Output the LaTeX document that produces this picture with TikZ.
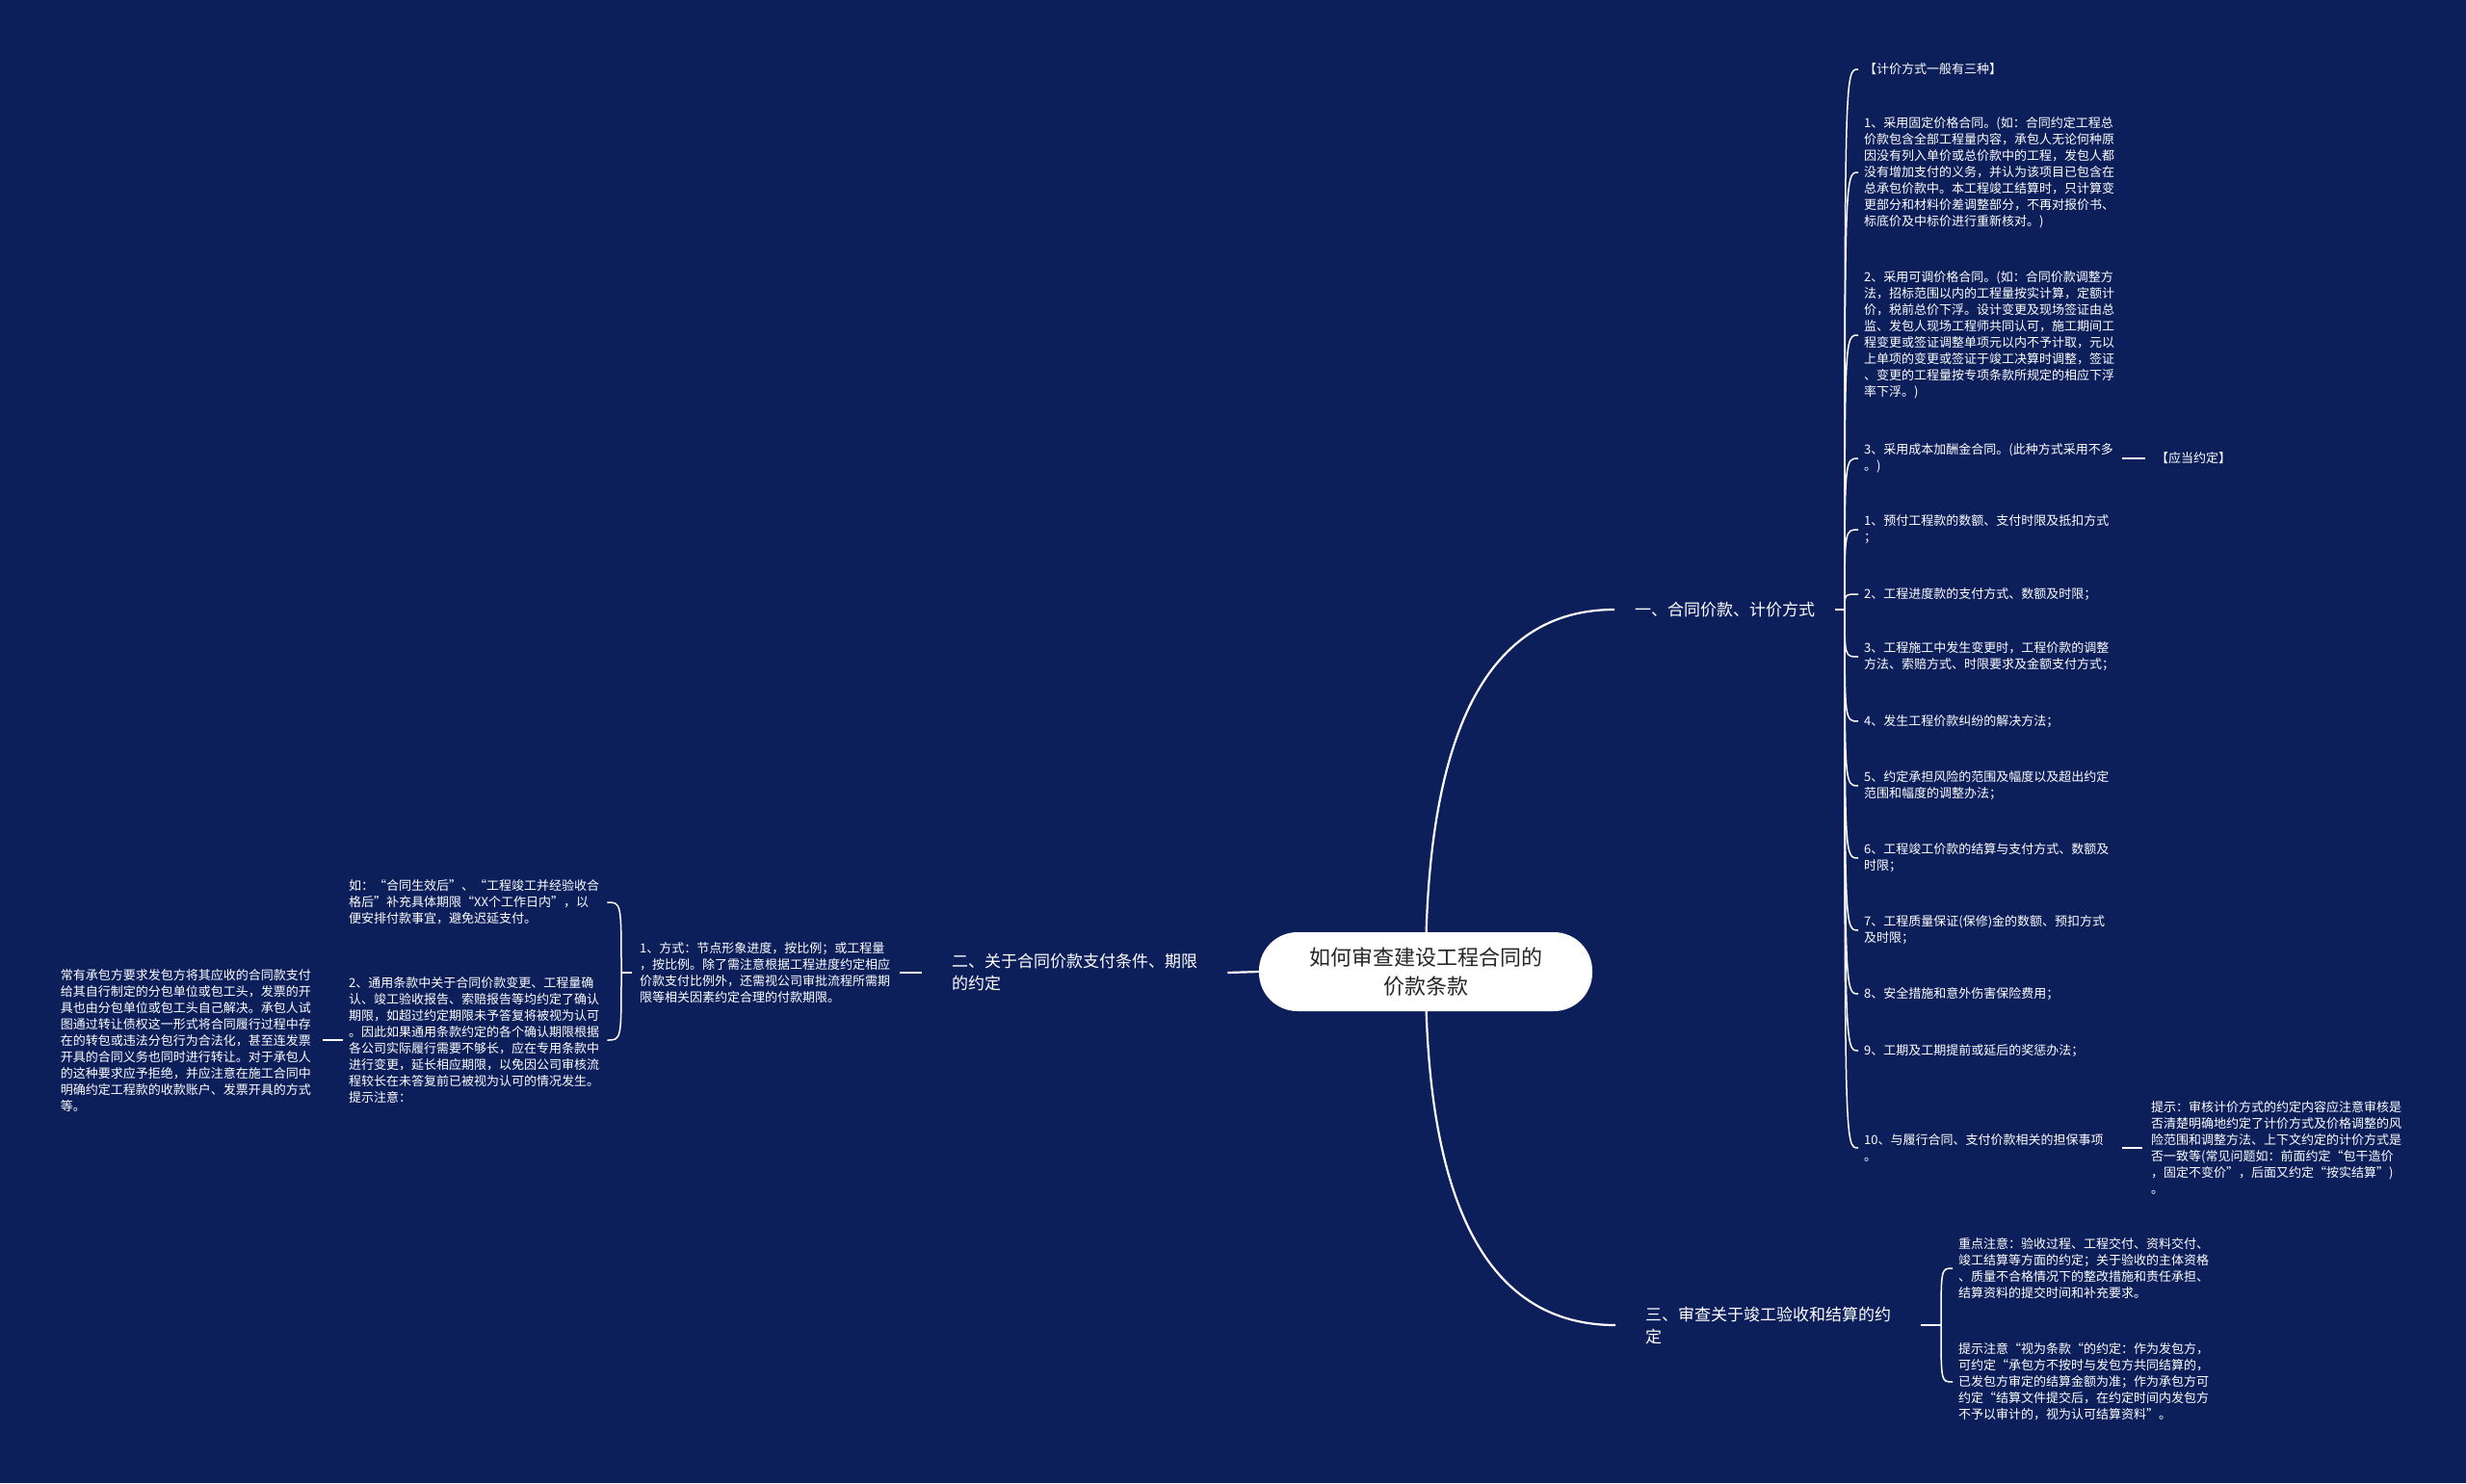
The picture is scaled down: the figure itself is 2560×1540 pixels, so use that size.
\documentclass[tikz,border=0pt]{standalone}
\usepackage{fontspec}
\setmainfont{Noto Sans CJK SC}
\usetikzlibrary{backgrounds}
\definecolor{bgnavy}{HTML}{0D1F5B}
\definecolor{inkdark}{HTML}{262626}
\begin{document}
\begin{tikzpicture}[x=1pt,y=-1pt,
  leaf/.style={text=white, font=\fontsize{13}{17}\selectfont, align=left, text width=262pt, inner xsep=6pt, inner ysep=0pt},
  branch/.style={text=white, font=\fontsize{17}{23}\selectfont, align=left, inner ysep=0pt},
  mainline/.style={draw=white, line width=2.2pt},
  subline/.style={draw=white, line width=1.5pt},
]
\useasboundingbox (0,0) rectangle (2560,1540);

% centre
\node[fill=white, rounded corners=40pt, minimum width=346pt, minimum height=82pt, align=center, text=inkdark, font=\fontsize{22}{30}\selectfont] (c) at (1480,1009) {如何审查建设工程合同的\\价款条款};

% branches
\node[branch, anchor=west, inner xsep=21pt] (b1) at (1676,633) {一、合同价款、计价方式};
\node[branch, anchor=west, inner xsep=31pt] (b2) at (957,1010) {二、关于合同价款支付条件、期限\\的约定};
\node[branch, anchor=west, inner xsep=31pt] (b3) at (1677,1376) {三、审查关于竣工验收和结算的约\\定};

\coordinate (s1) at (1915,633);
\coordinate (s2) at (645,1010);
\coordinate (s3) at (2015,1376);

% branch 1 children
\node[leaf, anchor=west] (c1) at (1929,72) {【计价方式一般有三种】};
\node[leaf, anchor=west] (c2) at (1929,179) {1、采用固定价格合同。(如：合同约定工程总\\价款包含全部工程量内容，承包人无论何种原\\因没有列入单价或总价款中的工程，发包人都\\没有增加支付的义务，并认为该项目已包含在\\总承包价款中。本工程竣工结算时，只计算变\\更部分和材料价差调整部分，不再对报价书、\\标底价及中标价进行重新核对。)};
\node[leaf, anchor=west] (c3) at (1929,348) {2、采用可调价格合同。(如：合同价款调整方\\法，招标范围以内的工程量按实计算，定额计\\价，税前总价下浮。设计变更及现场签证由总\\监、发包人现场工程师共同认可，施工期间工\\程变更或签证调整单项元以内不予计取，元以\\上单项的变更或签证于竣工决算时调整，签证\\、变更的工程量按专项条款所规定的相应下浮\\率下浮。)};
\node[leaf, anchor=west] (c4) at (1929,476) {3、采用成本加酬金合同。(此种方式采用不多\\。)};
\node[leaf, anchor=west] (c5) at (1929,550) {1、预付工程款的数额、支付时限及抵扣方式\\；};
\node[leaf, anchor=west] (c6) at (1929,617) {2、工程进度款的支付方式、数额及时限；};
\node[leaf, anchor=west] (c7) at (1929,682) {3、工程施工中发生变更时，工程价款的调整\\方法、索赔方式、时限要求及金额支付方式；};
\node[leaf, anchor=west] (c8) at (1929,749) {4、发生工程价款纠纷的解决方法；};
\node[leaf, anchor=west] (c9) at (1929,816) {5、约定承担风险的范围及幅度以及超出约定\\范围和幅度的调整办法；};
\node[leaf, anchor=west] (c10) at (1929,891) {6、工程竣工价款的结算与支付方式、数额及\\时限；};
\node[leaf, anchor=west] (c11) at (1929,966) {7、工程质量保证(保修)金的数额、预扣方式\\及时限；};
\node[leaf, anchor=west] (c12) at (1929,1032) {8、安全措施和意外伤害保险费用；};
\node[leaf, anchor=west] (c13) at (1929,1091) {9、工期及工期提前或延后的奖惩办法；};
\node[leaf, anchor=west] (c14) at (1929,1192) {10、与履行合同、支付价款相关的担保事项\\。};

\node[leaf, anchor=west, text width=80pt, inner xsep=11pt] (yd) at (2227,476) {【应当约定】};
\node[leaf, anchor=west, inner xsep=9pt] (tip) at (2224,1192) {提示：审核计价方式的约定内容应注意审核是\\否清楚明确地约定了计价方式及价格调整的风\\险范围和调整方法、上下文约定的计价方式是\\否一致等(常见问题如：前面约定“包干造价\\，固定不变价”，后面又约定“按实结算”)\\。};

% branch 2 children
\node[leaf, anchor=west, inner xsep=8pt] (k1) at (656,1010) {1、方式：节点形象进度，按比例；或工程量\\，按比例。除了需注意根据工程进度约定相应\\价款支付比例外，还需视公司审批流程所需期\\限等相关因素约定合理的付款期限。};
\node[leaf, anchor=west] (u1) at (356,937) {如：“合同生效后”、“工程竣工并经验收合\\格后”补充具体期限“XX个工作日内”，以\\便安排付款事宜，避免迟延支付。};
\node[leaf, anchor=west] (u2) at (356,1080) {2、通用条款中关于合同价款变更、工程量确\\认、竣工验收报告、索赔报告等均约定了确认\\期限，如超过约定期限未予答复将被视为认可\\。因此如果通用条款约定的各个确认期限根据\\各公司实际履行需要不够长，应在专用条款中\\进行变更，延长相应期限，以免因公司审核流\\程较长在未答复前已被视为认可的情况发生。\\提示注意：};
\node[leaf, anchor=east, inner xsep=10pt] (L) at (335,1080) {常有承包方要求发包方将其应收的合同款支付\\给其自行制定的分包单位或包工头，发票的开\\具也由分包单位或包工头自己解决。承包人试\\图通过转让债权这一形式将合同履行过程中存\\在的转包或违法分包行为合法化，甚至连发票\\开具的合同义务也同时进行转让。对于承包人\\的这种要求应予拒绝，并应注意在施工合同中\\明确约定工程款的收款账户、发票开具的方式\\等。};

% branch 3 children
\node[leaf, anchor=west] (t1) at (2027,1317) {重点注意：验收过程、工程交付、资料交付、\\竣工结算等方面的约定；关于验收的主体资格\\、质量不合格情况下的整改措施和责任承担、\\结算资料的提交时间和补充要求。};
\node[leaf, anchor=west] (t2) at (2027,1435) {提示注意“视为条款“的约定：作为发包方，\\可约定“承包方不按时与发包方共同结算的，\\已发包方审定的结算金额为准；作为承包方可\\约定“结算文件提交后，在约定时间内发包方\\不予以审计的，视为认可结算资料”。};

\begin{scope}[on background layer]
  \fill[bgnavy] (0,0) rectangle (2560,1540);
  % main curves
  \draw[mainline] (c.center) .. controls (1480,758) and (1545,633) .. (b1.west);
  \draw[mainline] (c.center) .. controls (1480,1254) and (1546,1376) .. (b3.west);
  \draw[mainline] (c.west) -- (b2.east);
  % branch 1 spine
  \draw[subline] (b1.east) -- (s1);
  \foreach \n in {c1,c2,c3,c4,c5,c6,c7,c8,c9,c10,c11,c12,c13,c14}
    \draw[subline] (s1) .. controls (s1 |- \n.west) and (s1 |- \n.west) .. (\n.west);
  \draw[subline] (c4.east) -- (yd.west);
  \draw[subline] (c14.east) -- (tip.west);
  % branch 2
  \draw[subline] (b2.west) -- (k1.east);
  \draw[subline] (k1.west) -- (s2);
  \foreach \n in {u1,u2}
    \draw[subline] (s2) .. controls (s2 |- \n.east) and (s2 |- \n.east) .. (\n.east);
  \draw[subline] (u2.west) -- (L.east);
  % branch 3
  \draw[subline] (b3.east) -- (s3);
  \foreach \n in {t1,t2}
    \draw[subline] (s3) .. controls (s3 |- \n.west) and (s3 |- \n.west) .. (\n.west);
\end{scope}
\end{tikzpicture}
\end{document}
